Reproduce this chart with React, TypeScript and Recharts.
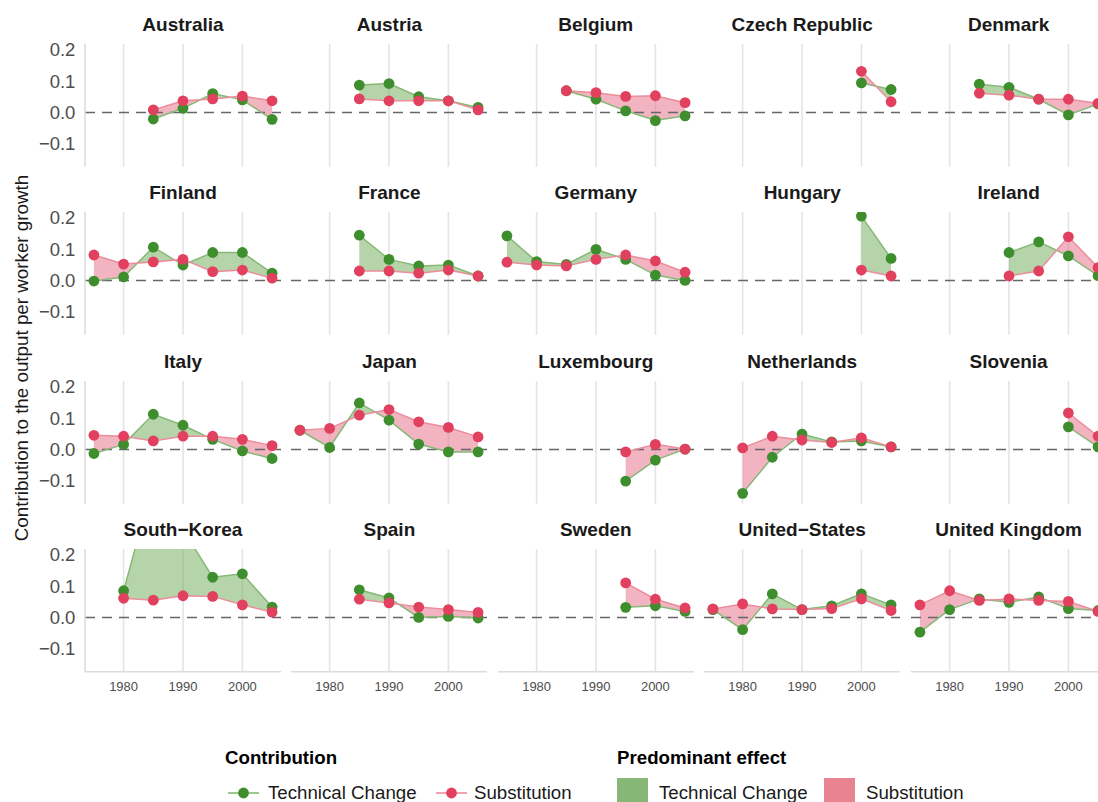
import React from 'react';
import { ComposedChart, Line, Area, XAxis, YAxis, ReferenceLine, CartesianGrid } from 'recharts';

// ---------- data ----------
const YEARS = [1975, 1980, 1985, 1990, 1995, 2000, 2005];
const GRID_YEARS = [1980, 1990, 2000];
const Y_TICKS = [-0.1, 0, 0.1, 0.2];

const australiaTech = [null, null, -0.021, 0.013, 0.06, 0.04, -0.022];
const australiaSubst = [null, null, 0.008, 0.037, 0.043, 0.052, 0.037];
const austriaTech = [null, null, 0.087, 0.092, 0.05, 0.037, 0.016];
const austriaSubst = [null, null, 0.043, 0.037, 0.037, 0.037, 0.008];
const belgiumTech = [null, null, 0.069, 0.042, 0.005, -0.026, -0.011];
const belgiumSubst = [null, null, 0.069, 0.063, 0.051, 0.053, 0.031];
const czechTech = [null, null, null, null, null, 0.094, 0.073];
const czechSubst = [null, null, null, null, null, 0.131, 0.034];
const denmarkTech = [null, null, 0.09, 0.08, 0.042, -0.008, 0.027];
const denmarkSubst = [null, null, 0.061, 0.055, 0.042, 0.042, 0.029];
const finlandTech = [-0.002, 0.011, 0.106, 0.049, 0.089, 0.089, 0.023];
const finlandSubst = [0.081, 0.052, 0.059, 0.067, 0.028, 0.033, 0.007];
const franceTech = [null, null, 0.144, 0.067, 0.046, 0.049, 0.014];
const franceSubst = [null, null, 0.03, 0.03, 0.023, 0.033, 0.014];
const germanyTech = [0.142, 0.06, 0.051, 0.099, 0.067, 0.017, 0.0];
const germanySubst = [0.058, 0.049, 0.046, 0.067, 0.081, 0.062, 0.026];
const hungaryTech = [null, null, null, null, null, 0.205, 0.07];
const hungarySubst = [null, null, null, null, null, 0.033, 0.014];
const irelandTech = [null, null, null, 0.089, 0.123, 0.078, 0.015];
const irelandSubst = [null, null, null, 0.014, 0.03, 0.139, 0.041];
const italyTech = [-0.013, 0.016, 0.112, 0.077, 0.032, -0.005, -0.029];
const italySubst = [0.045, 0.042, 0.027, 0.042, 0.042, 0.032, 0.012];
const japanTech = [0.061, 0.006, 0.148, 0.093, 0.017, -0.008, -0.008];
const japanSubst = [0.061, 0.067, 0.109, 0.127, 0.088, 0.07, 0.04];
const luxembourgTech = [null, null, null, null, -0.101, -0.034, 0.001];
const luxembourgSubst = [null, null, null, null, -0.008, 0.016, 0.001];
const netherlandsTech = [null, -0.14, -0.025, 0.049, 0.024, 0.027, 0.008];
const netherlandsSubst = [null, 0.005, 0.042, 0.03, 0.022, 0.037, 0.008];
const sloveniaTech = [null, null, null, null, null, 0.072, 0.008];
const sloveniaSubst = [null, null, null, null, null, 0.116, 0.042];
const southKoreaTech = [null, 0.085, 0.43, 0.28, 0.128, 0.139, 0.033];
const southKoreaSubst = [null, 0.061, 0.055, 0.069, 0.067, 0.04, 0.017];
const spainTech = [null, null, 0.088, 0.062, 0.0, 0.003, -0.002];
const spainSubst = [null, null, 0.058, 0.046, 0.033, 0.025, 0.016];
const swedenTech = [null, null, null, null, 0.032, 0.037, 0.019];
const swedenSubst = [null, null, null, null, 0.11, 0.058, 0.03];
const usTech = [0.025, -0.039, 0.075, 0.025, 0.037, 0.075, 0.04];
const usSubst = [0.027, 0.043, 0.027, 0.025, 0.028, 0.059, 0.022];
const ukTech = [-0.047, 0.025, 0.059, 0.048, 0.065, 0.028, 0.022];
const ukSubst = [0.04, 0.085, 0.054, 0.059, 0.054, 0.051, 0.019];

const COUNTRIES = [
  'Australia', 'Austria', 'Belgium', 'Czech Republic', 'Denmark',
  'Finland', 'France', 'Germany', 'Hungary', 'Ireland',
  'Italy', 'Japan', 'Luxembourg', 'Netherlands', 'Slovenia',
  'South\u2212Korea', 'Spain', 'Sweden', 'United\u2212States', 'United Kingdom',
];
const TECH_SERIES = [
  australiaTech, austriaTech, belgiumTech, czechTech, denmarkTech,
  finlandTech, franceTech, germanyTech, hungaryTech, irelandTech,
  italyTech, japanTech, luxembourgTech, netherlandsTech, sloveniaTech,
  southKoreaTech, spainTech, swedenTech, usTech, ukTech,
];
const SUBST_SERIES = [
  australiaSubst, austriaSubst, belgiumSubst, czechSubst, denmarkSubst,
  finlandSubst, franceSubst, germanySubst, hungarySubst, irelandSubst,
  italySubst, japanSubst, luxembourgSubst, netherlandsSubst, sloveniaSubst,
  southKoreaSubst, spainSubst, swedenSubst, usSubst, ukSubst,
];

// ---------- style ----------
const FONT = '"Liberation Sans", Arial, Helvetica, sans-serif';
const GREEN = '#3E8E2E';
const RED = '#E1405F';
const GREEN_LINE = '#86b977';
const RED_LINE = '#ec8d9c';
const GREEN_FILL = '#79b163';
const PINK_FILL = '#e6778c';
const FILL_OPACITY = 0.55;
const GREEN_KEY = '#87b777';
const PINK_KEY = '#e98392';
const GRID = '#e4e4e4';

const PW = 196;
const PH = 122.7;
const COL0 = 85;
const COLSTEP = 206.4;
const ROW0 = 43.9;
const ROWSTEP = 168.47;
const YAXIS_W = 85;
const XAXIS_H = 30;
const PAD = 8;

type Pt = { year: number; tech: number; subst: number };

function buildPoints(tech: (number | null)[], subst: (number | null)[]): Pt[] {
  const out: Pt[] = [];
  YEARS.forEach((y, i) => {
    const t = tech[i];
    const s = subst[i];
    if (t != null && s != null) out.push({ year: y, tech: t, subst: s });
  });
  return out;
}

function ribbonRow(year: number, t: number, s: number) {
  return {
    year,
    green: t >= s ? [s, t] : [t, t],
    pink: s >= t ? [t, s] : [s, s],
  };
}

// split the band between both lines where they cross, so each part gets its colour
function buildRibbon(pts: Pt[]) {
  const out: any[] = [];
  for (let i = 0; i < pts.length; i++) {
    const p = pts[i];
    out.push(ribbonRow(p.year, p.tech, p.subst));
    if (i < pts.length - 1) {
      const q = pts[i + 1];
      const d1 = p.tech - p.subst;
      const d2 = q.tech - q.subst;
      if (d1 * d2 < 0) {
        const f = d1 / (d1 - d2);
        const x = p.year + f * (q.year - p.year);
        const v = p.tech + f * (q.tech - p.tech);
        out.push({ year: x, green: [v, v], pink: [v, v] });
      }
    }
  }
  return out;
}

const fmtY = (v: number) => {
  const s = Math.abs(v).toFixed(1);
  return v < -1e-9 ? '\u2212' + s : s;
};

function Panel({ idx }: { idx: number }) {
  const col = idx % 5;
  const row = Math.floor(idx / 5);
  const pts = buildPoints(TECH_SERIES[idx], SUBST_SERIES[idx]);
  const ribbon = buildRibbon(pts);
  const showY = col === 0;
  const showX = row === 3;
  const panelLeft = COL0 + col * COLSTEP;
  const panelTop = ROW0 + row * ROWSTEP;
  const left = (showY ? panelLeft - YAXIS_W : panelLeft) - PAD;
  const width = PW + (showY ? YAXIS_W : 0) + 2 * PAD;
  const height = PH + (showX ? XAXIS_H : 0) + 2 * PAD;
  return (
    <>
      <div
        style={{
          position: 'absolute',
          left: panelLeft,
          top: panelTop - 31,
          width: PW,
          textAlign: 'center',
          fontFamily: FONT,
          fontWeight: 'bold',
          fontSize: 19,
          lineHeight: '24px',
          color: '#1a1a1a',
          whiteSpace: 'nowrap',
        }}
      >
        {COUNTRIES[idx]}
      </div>
      <div style={{ position: 'absolute', left, top: panelTop - PAD }}>
        <ComposedChart width={width} height={height} margin={{ top: PAD, right: PAD, bottom: PAD, left: PAD }}>
          <CartesianGrid horizontal={false} vertical syncWithTicks stroke={GRID} strokeWidth={1.6} />
          <XAxis
            type="number"
            dataKey="year"
            domain={[1973.5, 2006.5]}
            ticks={GRID_YEARS}
            allowDataOverflow
            hide={!showX}
            height={XAXIS_H}
            tickLine={false}
            tickSize={6}
            tickMargin={4.4}
            axisLine={{ stroke: '#dcdcdc', strokeWidth: 1.6 }}
            tick={{ fontSize: 13, fill: '#4d4d4d', fontFamily: FONT }}
          />
          <YAxis
            type="number"
            domain={[-0.173, 0.218]}
            ticks={Y_TICKS}
            allowDataOverflow
            hide={!showY}
            width={YAXIS_W}
            tickLine={false}
            tickSize={6}
            tickMargin={3.6}
            tickFormatter={fmtY}
            axisLine={{ stroke: '#dcdcdc', strokeWidth: 1.6 }}
            tick={{ fontSize: 18.5, fill: '#4d4d4d', fontFamily: FONT }}
          />
          <Area
            data={ribbon}
            dataKey="green"
            type="linear"
            stroke="none"
            fill={GREEN_FILL}
            fillOpacity={FILL_OPACITY}
            isAnimationActive={false}
            activeDot={false}
          />
          <Area
            data={ribbon}
            dataKey="pink"
            type="linear"
            stroke="none"
            fill={PINK_FILL}
            fillOpacity={FILL_OPACITY}
            isAnimationActive={false}
            activeDot={false}
          />
          <ReferenceLine y={0} stroke="#666666" strokeWidth={1.5} strokeDasharray="10 7" />
          <Line
            data={pts}
            dataKey="tech"
            type="linear"
            stroke={GREEN_LINE}
            strokeWidth={1.5}
            dot={{ r: 5.4, fill: GREEN, stroke: GREEN, strokeWidth: 0 }}
            activeDot={false}
            isAnimationActive={false}
          />
          <Line
            data={pts}
            dataKey="subst"
            type="linear"
            stroke={RED_LINE}
            strokeWidth={1.5}
            dot={{ r: 5.4, fill: RED, stroke: RED, strokeWidth: 0 }}
            activeDot={false}
            isAnimationActive={false}
          />
        </ComposedChart>
      </div>
    </>
  );
}

function LineKey({ line, dot }: { line: string; dot: string }) {
  return (
    <svg width={31} height={20} style={{ display: 'block' }}>
      <line x1={0} y1={10} x2={31} y2={10} stroke={line} strokeWidth={1.6} />
      <circle cx={15.5} cy={10} r={5.4} fill={dot} />
    </svg>
  );
}

export default function App() {
  const legendText: React.CSSProperties = {
    position: 'absolute',
    fontFamily: FONT,
    fontSize: 18.7,
    lineHeight: '22px',
    color: '#1a1a1a',
    whiteSpace: 'nowrap',
  };
  const legendTitle: React.CSSProperties = {
    position: 'absolute',
    fontFamily: FONT,
    fontSize: 18.7,
    fontWeight: 'bold',
    lineHeight: '22px',
    color: '#000',
    whiteSpace: 'nowrap',
  };
  return (
    <div
      style={{
        position: 'fixed',
        left: 0,
        top: 0,
        width: 1098,
        height: 802,
        overflow: 'hidden',
        background: '#fff',
      }}
    >
      {COUNTRIES.map((_, i) => (
        <Panel key={i} idx={i} />
      ))}
      <div
        style={{
          position: 'absolute',
          left: 22,
          top: ROW0 + (3 * ROWSTEP + PH) / 2,
          transform: 'translate(-50%, -50%) rotate(-90deg)',
          fontFamily: FONT,
          fontSize: 18.8,
          color: '#1a1a1a',
          whiteSpace: 'nowrap',
        }}
      >
        Contribution to the output per worker growth
      </div>

      {/* Legend: Contribution */}
      <div style={{ ...legendTitle, left: 225, top: 747 }}>Contribution</div>
      <div style={{ position: 'absolute', left: 228, top: 783 }}>
        <LineKey line={GREEN_LINE} dot={GREEN} />
      </div>
      <div style={{ ...legendText, left: 268, top: 782 }}>Technical Change</div>
      <div style={{ position: 'absolute', left: 436, top: 783 }}>
        <LineKey line={RED_LINE} dot={RED} />
      </div>
      <div style={{ ...legendText, left: 474, top: 782 }}>Substitution</div>

      {/* Legend: Predominant effect */}
      <div style={{ ...legendTitle, left: 617, top: 747 }}>Predominant effect</div>
      <div style={{ position: 'absolute', left: 617, top: 778, width: 31, height: 31, background: GREEN_KEY }} />
      <div style={{ ...legendText, left: 659, top: 782 }}>Technical Change</div>
      <div style={{ position: 'absolute', left: 824, top: 778, width: 31, height: 31, background: PINK_KEY }} />
      <div style={{ ...legendText, left: 866, top: 782 }}>Substitution</div>
    </div>
  );
}
